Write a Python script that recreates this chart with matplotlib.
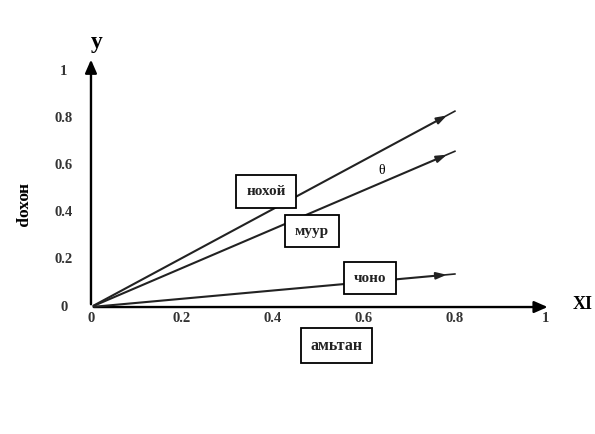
import matplotlib.pyplot as plt

# vector end points (x, y)
names = ['нохой', 'муур', 'чоно']
vec_x = [0.80, 0.80, 0.80]
vec_y = [0.83, 0.66, 0.14]

# label boxes for the vectors
box_x = [0.385, 0.486, 0.613]
box_y = [0.49, 0.322, 0.123]

x_ticks = [0, 0.2, 0.4, 0.6, 0.8, 1]
x_tick_labels = ['0', '0.2', '0.4', '0.6', '0.8', '1']
y_ticks = [0, 0.2, 0.4, 0.6, 0.8, 1]
y_tick_labels = ['0', '0.2', '0.4', '0.6', '0.8', '1']

plt.rcParams['font.family'] = ['Liberation Serif', 'DejaVu Serif']

fig = plt.figure(figsize=(5.95, 4.34), dpi=100)
ax = fig.add_axes([0, 0, 1, 1])
ax.set_xlim(-0.2, 1.108)
ax.set_ylim(-0.538, 1.301)
ax.axis('off')

# axes as arrows
arrow_kw = dict(arrowstyle='-|>,head_length=0.8,head_width=0.35', color='black', lw=1.7)
ax.annotate('', xy=(1.01, 0), xytext=(0, 0), arrowprops=arrow_kw)
ax.annotate('', xy=(0, 1.06), xytext=(0, 0), arrowprops=arrow_kw)

# tick labels
for t, lab in zip(x_ticks, x_tick_labels):
    ax.text(t, -0.048, lab, ha='center', va='center', fontsize=10.5, fontweight='bold',
            color='#333333')
for t, lab in zip(y_ticks, y_tick_labels):
    ax.text(-0.06, t, lab, ha='center', va='center', fontsize=10.5, fontweight='bold',
            color='#333333')

# vectors
vec_kw = dict(arrowstyle='-|>,head_length=0.6,head_width=0.2', color='#222222', lw=1.5)
for vx, vy in zip(vec_x, vec_y):
    ax.annotate('', xy=(vx * 0.985, vy * 0.985), xytext=(0, 0), arrowprops=vec_kw)
    ax.plot([vx * 0.97, vx], [vy * 0.97, vy], color='#222222', lw=1.2)

# boxed labels
box_kw = dict(boxstyle='square,pad=0.65', fc='white', ec='black', lw=1.3)
for name, bx, by in zip(names, box_x, box_y):
    ax.text(bx, by, name, ha='center', va='center', fontsize=11, fontweight='bold',
            color='#222222', bbox=box_kw)
ax.text(0.54, -0.163, 'амьтан', ha='center', va='center', fontsize=11.5, color='#222222',
        fontweight='bold', bbox=dict(boxstyle='square,pad=0.6', fc='white', ec='black', lw=1.3))

# angle between нохой and муур
ax.text(0.64, 0.58, 'θ', ha='center', va='center', fontsize=10)

# axis names
ax.text(0.013, 1.12, 'y', ha='center', va='center', fontsize=17, fontweight='bold')
ax.text(1.06, 0.01, 'XI', ha='left', va='center', fontsize=13, fontweight='bold')
ax.text(-0.15, 0.43, 'нохор', ha='center', va='center', fontsize=12.5,
        fontweight='bold', rotation=-90)

fig.savefig('out.png', dpi=100, facecolor='white')
